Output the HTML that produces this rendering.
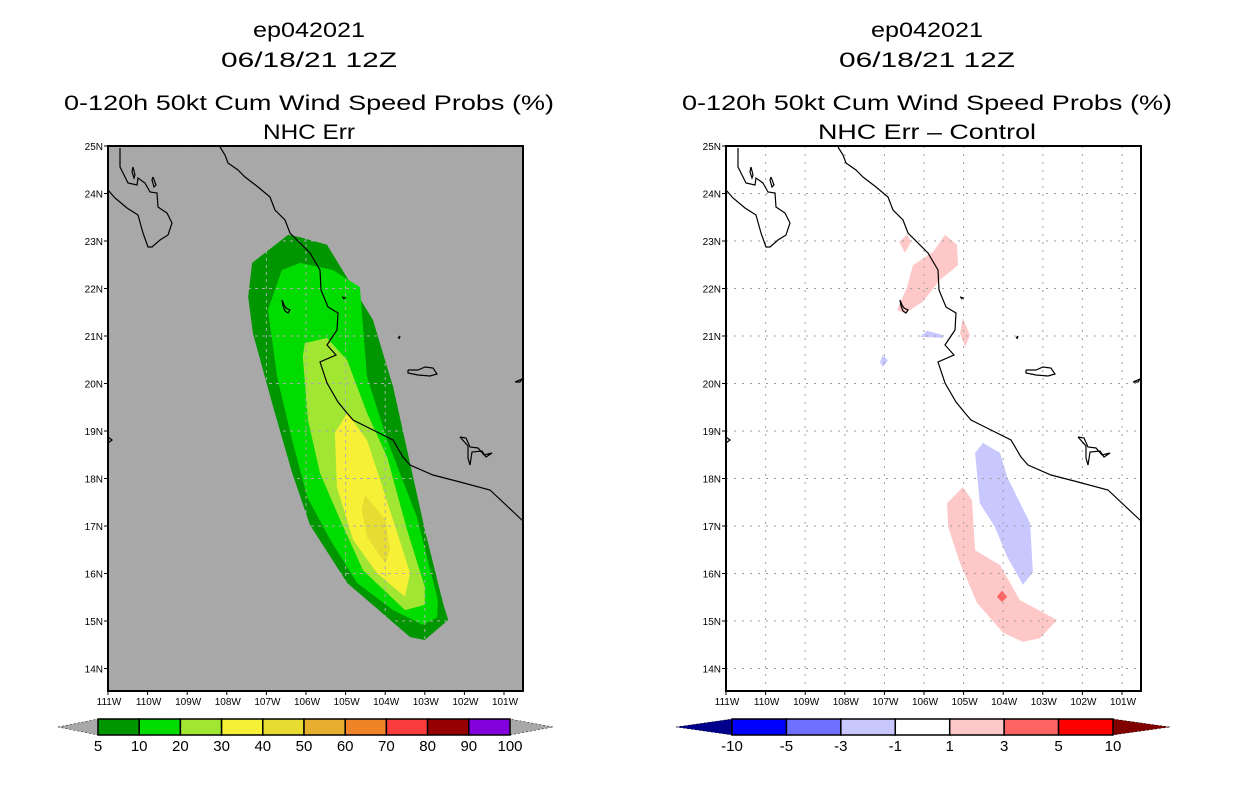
<!DOCTYPE html>
<html><head><meta charset="utf-8">
<style>
html,body{margin:0;padding:0;background:#fff;}
body{width:1236px;height:800px;overflow:hidden;font-family:"Liberation Sans",sans-serif;}
svg text{font-family:"Liberation Sans",sans-serif;fill:#000;}
</style></head>
<body>
<svg id="root" width="1236" height="800" viewBox="0 0 1236 800" xmlns="http://www.w3.org/2000/svg">
  <g font-size="21" text-anchor="middle">
    <text x="309" y="37" textLength="112" lengthAdjust="spacingAndGlyphs">ep042021</text>
    <text x="309" y="67" textLength="176" lengthAdjust="spacingAndGlyphs">06/18/21 12Z</text>
    <text x="309" y="110" textLength="490" lengthAdjust="spacingAndGlyphs">0-120h 50kt Cum Wind Speed Probs (%)</text>
    <text x="309" y="139" textLength="92" lengthAdjust="spacingAndGlyphs">NHC Err</text>
  </g>
  <g font-size="21" text-anchor="middle">
    <text x="927" y="37" textLength="112" lengthAdjust="spacingAndGlyphs">ep042021</text>
    <text x="927" y="67" textLength="176" lengthAdjust="spacingAndGlyphs">06/18/21 12Z</text>
    <text x="927" y="110" textLength="490" lengthAdjust="spacingAndGlyphs">0-120h 50kt Cum Wind Speed Probs (%)</text>
    <text x="927" y="139" textLength="218" lengthAdjust="spacingAndGlyphs">NHC Err – Control</text>
  </g>
  <g id="left"></g>
  <g id="right"></g>
  <g id="cbl"></g>
  <g id="cbr"></g>
</svg>
<script>
// ---- data ----
const lonTicks = [-111,-110,-109,-108,-107,-106,-105,-104,-103,-102,-101];
const latTicks = [14,15,16,17,18,19,20,21,22,23,24,25];
// probability contours (lon,lat)
const prob5 = [[-106.45,23.13],[-107.36,22.54],[-107.46,21.82],[-107.34,21.06],[-106.83,19.51],[-106.35,18.12],[-105.9,17.02],[-104.96,15.8],[-103.37,14.66],[-103.0,14.6],[-102.41,15.02],[-102.54,15.38],[-103.0,16.92],[-103.8,19.93],[-104.31,21.34],[-105.47,22.92],[-106.15,23.08]];
const prob10 = [[-106.15,22.54],[-106.61,22.39],[-106.96,21.55],[-106.73,20.14],[-106.35,18.81],[-105.97,17.61],[-105.39,16.71],[-104.71,15.8],[-103.8,15.23],[-103.05,14.92],[-102.69,15.08],[-102.67,15.44],[-103.2,17.19],[-103.95,18.81],[-104.46,20.14],[-104.64,22.03],[-105.32,22.39]];
const prob20 = [[-105.47,20.96],[-106.03,20.85],[-106.08,20.56],[-105.95,19.23],[-105.65,18.12],[-105.14,17.13],[-104.56,16.07],[-103.5,15.23],[-103.0,15.34],[-103.0,15.72],[-103.45,16.92],[-103.95,18.45],[-104.46,19.38],[-104.96,20.49]];
const prob30 = [[-104.96,19.38],[-105.27,18.96],[-105.22,17.82],[-104.81,16.71],[-104.21,16.01],[-103.5,15.51],[-103.37,16.01],[-103.58,16.56],[-104.13,17.97],[-104.46,18.81]];
const prob40 = [[-104.51,17.65],[-104.59,17.34],[-104.46,16.77],[-104.0,16.22],[-103.88,16.49],[-104.0,17.13]];
// difference contours
const diffPos1a = [[-105.42,17.48],[-105.02,17.82],[-104.79,17.55],[-104.71,16.49],[-104.08,16.18],[-103.58,15.44],[-102.64,15.02],[-103.07,14.64],[-103.5,14.56],[-104.0,14.75],[-104.66,15.38],[-105.09,16.22],[-105.39,16.98]];
const diffPos1b = [[-105.47,23.13],[-105.17,22.92],[-105.14,22.49],[-105.6,22.18],[-106.03,21.72],[-106.48,21.48],[-106.68,21.55],[-106.43,22.03],[-106.28,22.49],[-105.77,22.77]];
const diffPos1c = [[-106.63,22.98],[-106.43,23.13],[-106.33,22.98],[-106.48,22.75]];
const diffPos1d = [[-105.02,21.38],[-104.84,21.02],[-104.96,20.77],[-105.09,21.06]];
const diffPos3 = [[-104.03,15.64],[-103.9,15.51],[-104.03,15.4],[-104.16,15.51]];
const diffNeg1a = [[-104.51,18.75],[-104.08,18.54],[-103.9,18.03],[-103.32,17.06],[-103.25,16.03],[-103.5,15.76],[-103.9,16.35],[-104.21,16.98],[-104.59,17.48],[-104.71,18.54]];
const diffNeg1b = [[-105.92,21.11],[-105.52,21.02],[-105.52,20.96],[-106.1,20.98]];
const diffNeg1c = [[-107.04,20.6],[-106.91,20.49],[-107.04,20.35],[-107.11,20.45]];
const probLevels = ['5','10','20','30','40','50','60','70','80','90','100'];
const probColors = ['#009600','#00dc00','#a0e632','#f6f036','#e6dc32','#e6af2d','#f08228','#fa3c3c','#960000','#8200dc'];
const diffLevels = ['-10','-5','-3','-1','1','3','5','10'];
const diffColors = ['#0000ff','#7070ff','#c8c8ff','#ffffff','#ffc8c8','#ff6464','#ff0000'];

// coastline (left panel pixel coords, background geography)
const coastMain = [[220,147],[225,155],[228,163],[238,170],[245,177],[258,187],[270,197],[275,210],[285,220],[290,233],[310,253],[320,270],[321,290],[328,307],[338,313],[337,330],[327,345],[336,355],[320,362],[327,383],[338,402],[347,413],[353,420],[373,430],[393,440],[403,457],[410,465],[433,475],[460,482],[490,490],[523,521]];
const coastBaja = [[120,148],[120,167],[128,183],[137,185],[138,178],[145,183],[150,192],[157,193],[158,207],[167,213],[172,223],[168,235],[160,240],[152,247],[148,247],[143,233],[138,215],[127,208],[115,198],[108,190]];
const islands = [
 [[408,370],[418,370],[425,367],[433,368],[437,374],[430,376],[418,375],[408,373],[408,370]],
 [[282,300],[284,305],[286,308],[290,310],[288,313],[285,311],[283,306],[282,300]],
 [[133,167],[135,175],[134,178],[132,172],[133,167]],
 [[153,177],[156,185],[154,187],[152,180],[153,177]],
 [[460,437],[466,438],[470,447],[478,448],[484,455],[492,453],[486,457],[482,451],[472,452],[470,465],[468,458],[468,446],[460,437]],
 [[515,382],[522,379],[520,382],[515,382]],
 [[108,437],[112,440],[108,443]],
 [[398,338],[400,336],[399,339]],
 [[342,297],[345,298],[343,299]]
];

const NS='http://www.w3.org/2000/svg';
function mk(parent,tag,attrs){const e=document.createElementNS(NS,tag);for(const k in attrs)e.setAttribute(k,attrs[k]);parent.appendChild(e);return e;}
const PX=39.6, PY=47.5, TOP=146, W=415, H=545;
function xs(ox){return lon=>ox+(lon+111)*PX;}
function ys(lat){return TOP+(25-lat)*PY;}
function polyStr(pts,ox){const X=xs(ox);return pts.map(p=>X(p[0]).toFixed(1)+','+ys(p[1]).toFixed(1)).join(' ');}

function drawMap(g,ox,bg,fills,gridDash,gridColor){
  const r=mk(g,'rect',{x:ox,y:TOP,width:W,height:H,fill:bg});
  
  
  fills.forEach(f=>{
    const p=mk(g,'polygon',{points:polyStr(f.pts,ox),fill:f.c});
    
    
  });
  const X=xs(ox);
  const gg=mk(g,'g',{stroke:gridColor,'stroke-width':1,'stroke-dasharray':gridDash,fill:'none'});
  
  
  lonTicks.forEach(l=>{if(l>-111)mk(gg,'line',{x1:X(l),y1:TOP,x2:X(l),y2:TOP+H});});
  latTicks.forEach(l=>{if(l<25)mk(gg,'line',{x1:ox,y1:ys(l),x2:ox+W,y2:ys(l)});});
  const cg=mk(g,'g',{stroke:'#000','stroke-width':1.2,fill:'none'});
  
  
  const d=ox-108;
  [coastMain,coastBaja].concat(islands).forEach(c=>{
    mk(cg,'polyline',{points:c.map(p=>(p[0]+d)+','+p[1]).join(' ')});
  });
  const fr=mk(g,'rect',{x:ox,y:TOP,width:W,height:H,fill:'none',stroke:'#000','stroke-width':2});
  
  
  const tg=mk(g,'g',{'font-size':10});
  
  
  latTicks.forEach(l=>{
    mk(g,'line',{x1:ox-4,y1:ys(l),x2:ox,y2:ys(l),stroke:'#000'});
    const t=mk(tg,'text',{x:ox-5,y:ys(l)+4,'text-anchor':'end'});t.textContent=l+'N';
    
    
  });
  lonTicks.forEach(l=>{
    mk(g,'line',{x1:X(l),y1:TOP+H,x2:X(l),y2:TOP+H+4,stroke:'#000'});
    const t=mk(tg,'text',{x:X(l)+1,y:TOP+H+14,'text-anchor':'middle'});t.textContent=(-l)+'W';
    
    
  });
}
drawMap(document.getElementById('left'),108,'#a8a8a8',[
 {pts:prob5,c:probColors[0],n:'contour-5'},{pts:prob10,c:probColors[1],n:'contour-10'},
 {pts:prob20,c:probColors[2],n:'contour-20'},{pts:prob30,c:probColors[3],n:'contour-30'},
 {pts:prob40,c:probColors[4],n:'contour-40'}],'3,4','#acacac');
drawMap(document.getElementById('right'),726,'#ffffff',[
 {pts:diffPos1a,c:diffColors[4],n:'diff-positive-south'},{pts:diffPos1b,c:diffColors[4],n:'diff-positive-north'},
 {pts:diffPos1c,c:diffColors[4],n:'diff-positive-small'},{pts:diffPos1d,c:diffColors[4],n:'diff-positive-coast'},
 {pts:diffPos3,c:diffColors[5],n:'diff-positive-3'},{pts:diffNeg1a,c:diffColors[2],n:'diff-negative-south'},
 {pts:diffNeg1b,c:diffColors[2],n:'diff-negative-north'},{pts:diffNeg1c,c:diffColors[2],n:'diff-negative-west'}],'2,6','#a0a0a0');

function colorbar(g,x0,x1,tipL,tipR,colors,labels,tipLc,tipRc){
  const n=colors.length, w=(x1-x0)/n, y0=719, y1=735, ym=727;
  const a=mk(g,'polygon',{points:`${tipL},${ym} ${x0},${y0} ${x0},${y1}`,fill:tipLc,stroke:'#000','stroke-width':0.5,'stroke-dasharray':'2,2'});
  
  
  const b=mk(g,'polygon',{points:`${tipR},${ym} ${x1},${y0} ${x1},${y1}`,fill:tipRc,stroke:'#000','stroke-width':0.5,'stroke-dasharray':'2,2'});
  
  
  colors.forEach((c,i)=>{
    const r=mk(g,'rect',{x:x0+i*w,y:y0,width:w,height:y1-y0,fill:c,stroke:'#000','stroke-width':1.5});
    
    
  });
  labels.forEach((l,i)=>{
    const t=mk(g,'text',{x:x0+i*w,y:751,'text-anchor':'middle','font-size':15});t.textContent=l;
    
    
  });
}
colorbar(document.getElementById('cbl'),98,510,58,553,probColors,probLevels,'#a8a8a8','#a8a8a8');
colorbar(document.getElementById('cbr'),732,1113,676,1170,diffColors,diffLevels,'#00008b','#800000');
</script>
</body></html>
